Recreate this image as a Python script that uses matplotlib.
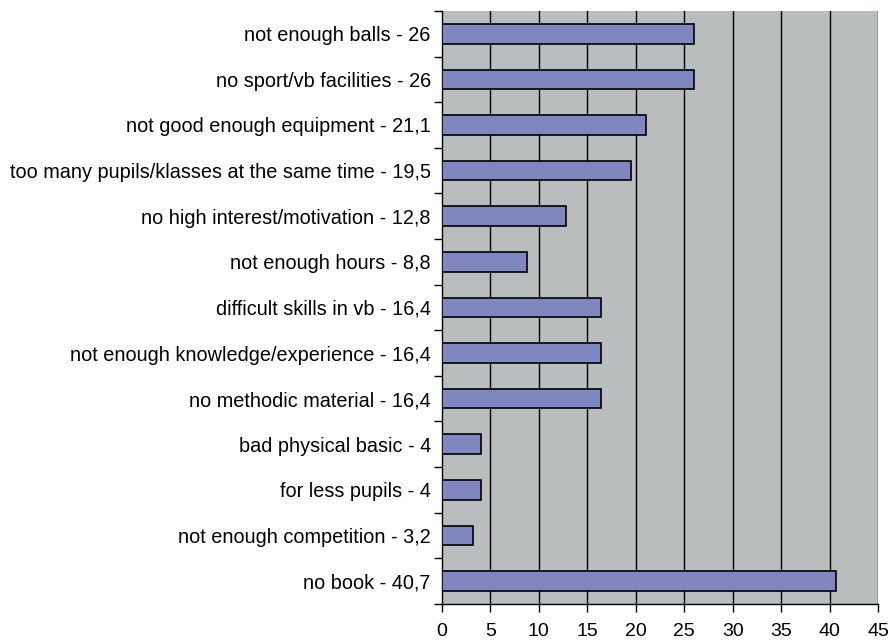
import numpy as np
import matplotlib.pyplot as plt

plt.rcParams['font.family'] = ['Liberation Sans', 'DejaVu Sans']

# top to bottom, as in the picture
labels = [
    "not enough balls - 26",
    "no sport/vb facilities - 26",
    "not good enough equipment - 21,1",
    "too many pupils/klasses at the same time - 19,5",
    "no high interest/motivation - 12,8",
    "not enough hours - 8,8",
    "difficult skills in vb - 16,4",
    "not enough knowledge/experience - 16,4",
    "no methodic material - 16,4",
    "bad physical basic - 4",
    "for less pupils - 4",
    "not enough competition - 3,2",
    "no book - 40,7",
]
values = [26, 26, 21.1, 19.5, 12.8, 8.8, 16.4, 16.4, 16.4, 4, 4, 3.2, 40.7]
xticks = [0, 5, 10, 15, 20, 25, 30, 35, 40, 45]

fig = plt.figure(figsize=(8.91, 6.43), dpi=100)
ax = fig.add_axes([0.496, 0.0607, 0.4894, 0.9223])
ax.set_facecolor('#B9BDBD')

n = len(values)
ypos = np.arange(n)[::-1]
ax.barh(ypos, values, height=0.43, color='#7F87C1', edgecolor='black',
        linewidth=1.2, zorder=3)

ax.set_xlim(0, 45)
ax.set_ylim(-0.5, n - 0.5)
ax.set_xticks(xticks)
ax.set_xticklabels([str(t) for t in xticks], fontsize=14)
for t in xticks[1:]:
    ax.axvline(t, color='black', linewidth=1, zorder=1)

# category labels, ticks at the boundaries
ax.set_yticks(ypos)
ax.set_yticklabels(labels, fontsize=14.3)
ax.tick_params(axis='y', length=0, pad=8)
ax.set_yticks(np.arange(n + 1) - 0.5, minor=True)
ax.tick_params(axis='y', which='minor', length=6, width=1, direction='out')
ax.tick_params(axis='x', length=6, width=1, direction='out', pad=8)

ax.spines['top'].set_visible(False)
ax.spines['right'].set_visible(False)
ax.spines['left'].set_linewidth(1)
ax.spines['bottom'].set_linewidth(1)

fig.savefig('out.png', dpi=100)
